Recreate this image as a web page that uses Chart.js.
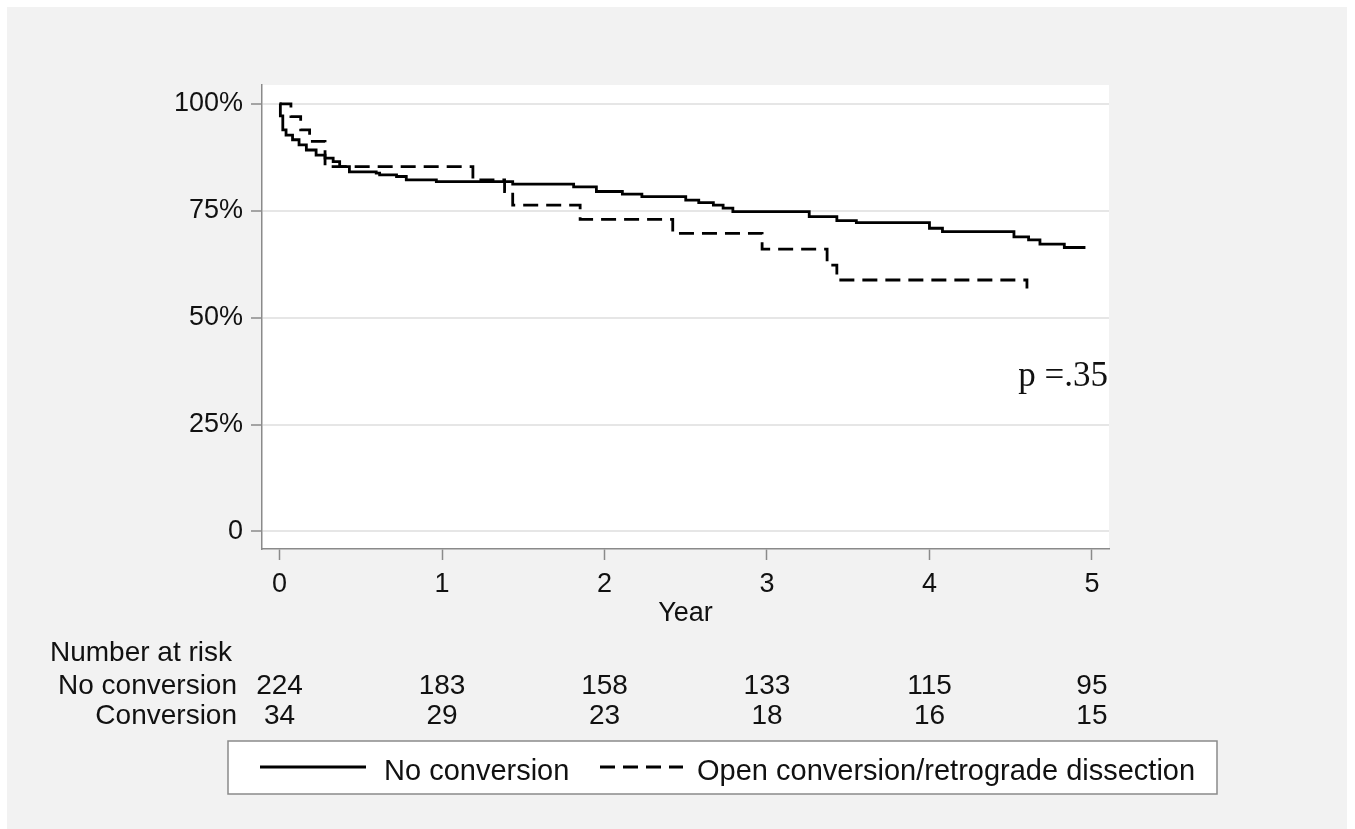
<!DOCTYPE html>
<html>
<head>
<meta charset="utf-8">
<script src="https://cdn.jsdelivr.net/npm/chart.js@4/dist/chart.umd.min.js"></script>
<style>
  html, body { margin: 0; padding: 0; background: #fff; overflow: hidden; }
  #wrap { position: absolute; left: 7px; top: 7px; width: 1340px; height: 830px; background: #f2f2f2; }
  #chart { position: absolute; left: 0; top: 0; }
</style>
</head>
<body>
<div id="wrap"></div>
<canvas id="chart" width="1355" height="829"></canvas>
<script>
// Kaplan-Meier steps (years, survival %)
const noConvYears = [0, 0.005, 0.02, 0.04, 0.08, 0.12, 0.165, 0.225, 0.28, 0.33, 0.37, 0.43,
  0.595, 0.616, 0.72, 0.78, 0.965, 1.435, 1.81, 1.95, 2.11, 2.23, 2.50, 2.58, 2.67, 2.73, 2.79,
  3.26, 3.43, 3.55, 4.0, 4.08, 4.52, 4.61, 4.68, 4.83, 4.96];
const noConvSurv = [100, 97.2, 93.9, 92.7, 91.6, 90.4, 89.2, 88.0, 87.3, 86.5, 85.3, 84.1,
  83.8, 83.4, 83.0, 82.2, 81.8, 81.2, 80.6, 79.5, 78.9, 78.3, 77.5, 76.9, 76.3, 75.6, 74.8,
  73.6, 72.7, 72.2, 70.9, 70.1, 68.9, 68.2, 67.2, 66.4, 66.4];

const convYears = [0, 0.07, 0.13, 0.185, 0.28, 1.19, 1.385, 1.435, 1.85, 2.42, 2.97, 3.37, 3.43, 4.6];
const convSurv = [100, 97.0, 93.9, 91.2, 85.3, 82.2, 79.5, 76.3, 73.0, 69.7, 66.0, 62.3, 58.8, 56.8];

const xTicks = [0, 1, 2, 3, 4, 5];
const yTicks = [0, 25, 50, 75, 100];

const riskYears = [0, 1, 2, 3, 4, 5];
const riskNoConv = [224, 183, 158, 133, 115, 95];
const riskConv = [34, 29, 23, 18, 16, 15];

const pValueText = 'p =.35';
const legendLabels = ['No conversion', 'Open conversion/retrograde dissection'];

const SANS = "'Liberation Sans', Arial, sans-serif";
const SERIF = "'Liberation Serif', 'Times New Roman', serif";

const toPoints = (xs, ys) => xs.map((x, i) => ({ x: x, y: ys[i] }));

const plotBg = {
  id: 'plotBg',
  beforeDraw(chart) {
    const { ctx, chartArea: a } = chart;
    ctx.save();
    ctx.fillStyle = '#ffffff';
    ctx.fillRect(a.left, a.top, a.right - a.left, a.bottom - a.top);
    ctx.restore();
  }
};

const extras = {
  id: 'extras',
  afterDraw(chart) {
    const ctx = chart.ctx;
    const xs = chart.scales.x;
    const ys = chart.scales.y;
    ctx.save();

    // p value
    ctx.fillStyle = '#111';
    ctx.font = '35px ' + SERIF;
    ctx.textAlign = 'left';
    ctx.textBaseline = 'alphabetic';
    ctx.fillText(pValueText, xs.getPixelForValue(4.547), ys.getPixelForValue(33.9));

    // number at risk table
    ctx.font = '28px ' + SANS;
    ctx.fillStyle = '#111';
    ctx.fillText('Number at risk', 50, 661);
    ctx.textAlign = 'right';
    ctx.fillText('No conversion', 237, 694);
    ctx.fillText('Conversion', 237, 724);
    ctx.textAlign = 'center';
    riskYears.forEach((yr, i) => {
      const px = xs.getPixelForValue(yr);
      ctx.fillText(String(riskNoConv[i]), px, 694);
      ctx.fillText(String(riskConv[i]), px, 724);
    });

    // legend box
    ctx.fillStyle = '#ffffff';
    ctx.fillRect(228, 741, 989, 53);
    ctx.strokeStyle = '#8a8a8a';
    ctx.lineWidth = 1.5;
    ctx.strokeRect(228, 741, 989, 53);

    ctx.strokeStyle = '#000';
    ctx.lineWidth = 2.8;
    ctx.beginPath();
    ctx.moveTo(260, 767);
    ctx.lineTo(366, 767);
    ctx.stroke();
    ctx.setLineDash([15, 8]);
    ctx.beginPath();
    ctx.moveTo(600, 767);
    ctx.lineTo(683, 767);
    ctx.stroke();
    ctx.setLineDash([]);

    ctx.fillStyle = '#111';
    ctx.font = '29px ' + SANS;
    ctx.textAlign = 'left';
    ctx.fillText(legendLabels[0], 384, 780);
    ctx.fillText(legendLabels[1], 697, 780);

    ctx.restore();
  }
};

new Chart(document.getElementById('chart').getContext('2d'), {
  type: 'line',
  data: {
    datasets: [
      {
        label: legendLabels[0],
        data: toPoints(noConvYears, noConvSurv),
        borderColor: '#000',
        borderWidth: 2.8,
        pointRadius: 0,
        stepped: 'before',
        fill: false
      },
      {
        label: legendLabels[1],
        data: toPoints(convYears, convSurv),
        borderColor: '#000',
        borderWidth: 2.8,
        borderDash: [15, 8],
        pointRadius: 0,
        stepped: 'before',
        fill: false
      }
    ]
  },
  options: {
    responsive: false,
    animation: false,
    events: [],
    layout: { padding: { left: 0, right: 246, top: 85, bottom: 199 } },
    plugins: { legend: { display: false }, tooltip: { enabled: false } },
    scales: {
      x: {
        type: 'linear',
        min: -0.108,
        max: 5.105,
        afterBuildTicks: (s) => { s.ticks = xTicks.map(v => ({ value: v })); },
        afterFit: (s) => { s.height = 81; },
        grid: { drawOnChartArea: false, drawTicks: true, tickLength: 11, tickColor: '#8a8a8a', tickWidth: 1.5 },
        border: { display: true, color: '#8a8a8a', width: 1.5 },
        ticks: { color: '#111', font: { family: SANS, size: 27 }, padding: 8, maxRotation: 0 },
        title: { display: true, text: 'Year', color: '#111', font: { family: SANS, size: 27 }, padding: 0 }
      },
      y: {
        min: -4.1,
        max: 104.4,
        afterBuildTicks: (s) => { s.ticks = yTicks.map(v => ({ value: v })); },
        afterFit: (s) => { s.width = 262; },
        grid: { color: '#e6e6e6', lineWidth: 2, drawTicks: true, tickLength: 11, tickColor: '#8a8a8a', tickWidth: 1.5 },
        border: { display: true, color: '#8a8a8a', width: 1.5 },
        ticks: {
          color: '#111',
          font: { family: SANS, size: 27 },
          padding: 8,
          callback: (v) => (v === 0 ? '0' : v + '%')
        }
      }
    }
  },
  plugins: [plotBg, extras]
});
</script>
</body>
</html>
